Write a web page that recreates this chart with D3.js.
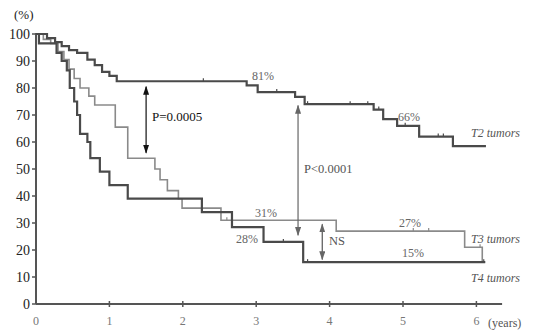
<!DOCTYPE html>
<html lang="en">
<head>
<meta charset="utf-8">
<title>Survival by T stage</title>
<script src="https://d3js.org/d3.v7.min.js"></script>
<style>
  body { margin: 0; background: #fff; }
  text { font-family: "Liberation Serif", "DejaVu Serif", serif; }
</style>
</head>
<body>
<svg width="536" height="330"></svg>
<script>
// step data: [years, survival %]
const t2 = [[0,100],[0.15,98.5],[0.26,97],[0.35,95.5],[0.45,94],[0.56,93],[0.7,90.5],[0.8,88.5],[0.9,86],[1.0,84.5],[1.1,82.5],[2.87,81],[3.02,78.5],[3.53,76.7],[3.66,74],[4.6,72],[4.73,68.5],[4.92,66],[5.22,62],[5.68,58.5],[6.13,58.5]];
const t3 = [[0,100],[0.1,98],[0.2,96.5],[0.3,93.5],[0.38,90.5],[0.45,87],[0.52,83.5],[0.6,80],[0.72,77],[0.8,73.7],[1.08,65.5],[1.25,54],[1.62,50],[1.69,46],[1.79,42],[1.94,39],[1.99,35.5],[2.52,31],[4.09,27],[5.84,21],[6.08,15.5],[6.12,15.5]];
const t4 = [[0,100],[0.04,96.5],[0.28,93],[0.35,90],[0.42,86.5],[0.46,80],[0.52,75],[0.56,70],[0.6,63],[0.7,60],[0.74,54],[0.87,49],[1.0,44],[1.25,39],[2.26,34],[2.67,28.5],[3.1,23],[3.64,15.5],[6.12,15.5]];
// censored observations
const t2Censor = [2.28, 3.28, 3.7, 4.28, 4.52, 4.67, 5.03, 5.48, 5.55];
const t3Censor = [2.6, 5.14, 5.35, 6.05];
const t4Censor = [3.37, 3.7, 6.1];

const yTicks = [0,10,20,30,40,50,60,70,80,90,100];
const xTicks = [0,1,2,3,4,5,6];

const svg = d3.select("svg");
const x = d3.scaleLinear().domain([0,6]).range([36,476.4]);
const y = d3.scaleLinear().domain([0,100]).range([304,34]);

// axes
svg.append("line").attr("x1", x(0)).attr("x2", x(6.35)).attr("y1", y(0)).attr("y2", y(0))
  .attr("stroke", "#555").attr("stroke-width", 2);
svg.append("line").attr("x1", x(0)).attr("x2", x(0)).attr("y1", y(0)).attr("y2", y(100) - 1)
  .attr("stroke", "#555").attr("stroke-width", 2);

svg.selectAll(".ytick").data(yTicks).enter().append("line")
  .attr("x1", x(0) - 4).attr("x2", x(0)).attr("y1", d => y(d)).attr("y2", d => y(d))
  .attr("stroke", "#555").attr("stroke-width", 1.5);
svg.selectAll(".ylab").data(yTicks).enter().append("text")
  .attr("x", x(0) - 6).attr("y", d => y(d) + 5).attr("text-anchor", "end")
  .attr("font-size", 14).attr("fill", "#222").text(d => d);

svg.selectAll(".xtick").data(xTicks.slice(1)).enter().append("line")
  .attr("x1", d => x(d)).attr("x2", d => x(d)).attr("y1", y(0) - 3).attr("y2", y(0) + 3)
  .attr("stroke", "#555").attr("stroke-width", 1.5);
svg.selectAll(".xlab").data(xTicks).enter().append("text")
  .attr("x", d => x(d)).attr("y", 325).attr("text-anchor", "middle")
  .attr("font-size", 12).attr("fill", "#777").text(d => d);

svg.append("text").attr("x", 14).attr("y", 19).attr("font-size", 13).attr("fill", "#222").text("(%)");
svg.append("text").attr("x", 488).attr("y", 327).attr("font-size", 12).attr("fill", "#555").text("(years)");

// curves
const line = d3.line().x(d => x(d[0])).y(d => y(d[1])).curve(d3.curveStepAfter);
function stepAt(data, t) {
  let v = data[0][1];
  data.forEach(d => { if (d[0] <= t) v = d[1]; });
  return v;
}
function curve(data, censor, color, width) {
  svg.append("path").datum(data).attr("d", line)
    .attr("fill", "none").attr("stroke", color).attr("stroke-width", width);
  svg.selectAll(null).data(censor).enter().append("line")
    .attr("x1", d => x(d)).attr("x2", d => x(d))
    .attr("y1", d => y(stepAt(data, d))).attr("y2", d => y(stepAt(data, d)) - 3)
    .attr("stroke", color).attr("stroke-width", 1.2);
}
curve(t3, t3Censor, "#8a8a8a", 1.6);
curve(t4, t4Censor, "#4a4a4a", 2.2);
curve(t2, t2Censor, "#4a4a4a", 2.2);

// arrows
const defs = svg.append("defs");
function marker(id, color) {
  defs.append("marker").attr("id", id).attr("viewBox", "0 0 10 10")
    .attr("refX", 9).attr("refY", 5).attr("markerWidth", 9).attr("markerHeight", 6)
    .attr("markerUnits", "userSpaceOnUse").attr("orient", "auto-start-reverse")
    .attr("preserveAspectRatio", "none")
    .append("path").attr("d", "M0,0 L10,5 L0,10 z").attr("fill", color);
}
marker("ab", "#111");
marker("ag", "#666");

function arrow(t, v1, v2, color, mid, both) {
  const l = svg.append("line").attr("x1", x(t)).attr("x2", x(t))
    .attr("y1", y(v1)).attr("y2", y(v2))
    .attr("stroke", color).attr("stroke-width", 1.2)
    .attr("marker-end", "url(#" + mid + ")");
  if (both) l.attr("marker-start", "url(#" + mid + ")");
}
arrow(1.5, 56, 80.5, "#111", "ab", true);
arrow(3.57, 73.5, 25.5, "#666", "ag", true);
arrow(3.9, 29.5, 16.5, "#555", "ag", true);

function label(tx, ty, s, opts = {}) {
  svg.append("text").attr("x", tx).attr("y", ty)
    .attr("font-size", opts.size || 12).attr("fill", opts.color || "#666")
    .attr("font-style", opts.italic ? "italic" : null).text(s);
}
label(152, 121, "P=0.0005", { size: 13, color: "#111" });
label(304, 173, "P<0.0001", { size: 12.5, color: "#555" });
label(329, 245, "NS", { size: 12.5, color: "#555" });
label(252, 80, "81%");
label(398, 121, "66%");
label(255, 217, "31%");
label(236, 243, "28%");
label(399, 227, "27%");
label(402, 257, "15%");
label(471, 137, "T2 tumors", { italic: true, color: "#555" });
label(471, 243, "T3 tumors", { italic: true, color: "#555" });
label(471, 282, "T4 tumors", { italic: true, color: "#555" });
</script>
</body>
</html>
